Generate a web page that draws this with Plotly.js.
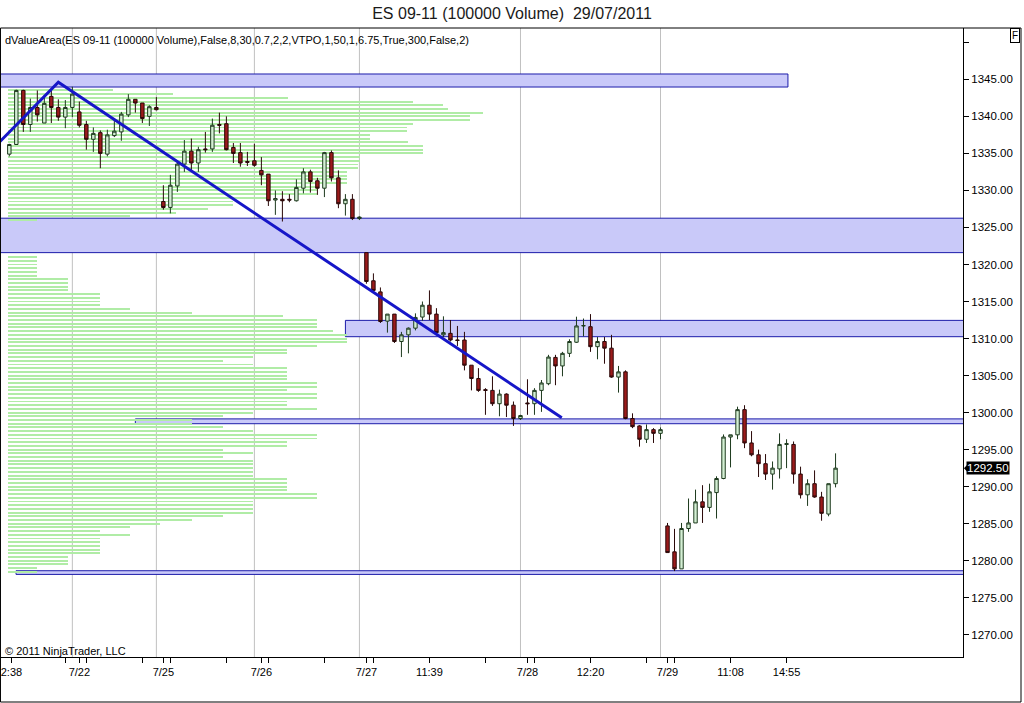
<!DOCTYPE html>
<html><head><meta charset="utf-8">
<script src="https://cdn.plot.ly/plotly-3.0.1.min.js"></script>
<style>html,body{margin:0;padding:0;background:#fff;overflow:hidden}#chart{width:1024px;height:703px;}</style>
</head><body><div id="chart"></div>
<script>
const opens = [1334.9,1336.2,1343.5,1338.9,1341.2,1339.1,1342.7,1341.2,1339.9,1341.2,
1340.6,1338.9,1336.9,1337.8,1334.9,1337.4,1337.9,1340.2,1342.3,1341.8,
1340.0,1341.2,1328.5,1327.7,1330.6,1333.55,1335.3,1333.7,1335.6,1335.6,
1338.9,1339.0,1335.8,1335.1,1333.9,1334.0,1332.7,1332.2,1328.7,1328.8,
1328.8,1328.6,1330.3,1332.5,1331.3,1330.3,1335.1,1331.7,1328.2,1328.8,
1326.2,1321.6,1317.8,1316.3,1312.35,1313.3,1309.6,1310.5,1311.4,1312.9,
1314.5,1313.3,1310.5,1310.7,1309.8,1309.8,1306.4,1304.6,1303.1,1303.0,
1301.2,1302.5,1301.0,1299.2,1301.3,1301.2,1303.0,1303.9,1307.45,1306.3,
1308.0,1309.5,1311.7,1311.6,1308.9,1309.6,1308.7,1304.8,1305.5,1299.2,
1298.2,1296.4,1297.7,1297.2,1284.7,1281.2,1278.9,1284.35,1285.1,1287.95,
1287.2,1289.2,1291.1,1296.7,1297.0,1300.4,1295.9,1294.3,1293.1,1291.7,
1292.4,1295.7,1295.7,1291.7,1288.9,1290.4,1288.6,1286.3,1290.4];
const highs = [1336.3,1343.6,1343.6,1342.4,1343.5,1342.9,1343.5,1342.3,1342.2,1344.0,
1342.0,1339.4,1338.5,1338.1,1338.2,1339.5,1340.6,1343.0,1342.3,1341.8,
1341.5,1342.6,1330.7,1332.1,1334.1,1336.8,1337.0,1335.9,1337.9,1339.7,
1340.5,1340.0,1336.4,1336.4,1335.2,1336.3,1334.5,1332.2,1330.0,1329.9,
1329.5,1331.5,1333.0,1332.8,1331.7,1335.2,1335.4,1332.7,1329.5,1329.5,
1326.5,1321.6,1318.8,1316.9,1313.3,1313.3,1310.9,1311.5,1313.4,1315.0,
1316.5,1314.1,1313.0,1312.5,1311.7,1310.9,1306.4,1306.0,1303.3,1304.9,
1303.1,1302.6,1301.5,1299.7,1304.5,1303.3,1304.4,1307.8,1307.8,1308.2,
1309.9,1312.95,1312.7,1313.3,1310.2,1310.2,1310.5,1306.3,1305.7,1299.9,
1298.3,1298.4,1297.9,1298.0,1285.1,1284.3,1285.1,1288.4,1289.6,1290.2,
1290.4,1291.4,1297.05,1297.0,1300.8,1301.0,1297.5,1295.0,1294.4,1293.4,
1297.2,1296.4,1296.1,1292.7,1291.0,1292.2,1289.3,1290.4,1294.5];
const lows = [1334.6,1336.2,1337.9,1337.9,1339.3,1339.1,1339.1,1339.4,1338.4,1339.9,
1338.5,1335.5,1335.2,1333.0,1334.6,1337.2,1336.7,1339.9,1340.5,1339.1,
1338.7,1340.8,1327.4,1326.9,1329.8,1332.5,1332.7,1332.5,1335.1,1335.2,
1337.7,1335.4,1333.7,1333.2,1333.3,1333.2,1330.7,1327.9,1326.7,1325.8,
1328.4,1328.5,1329.6,1329.7,1329.4,1329.1,1331.2,1327.6,1326.6,1326.0,
1326.0,1317.4,1316.3,1312.1,1310.8,1309.4,1307.5,1308.0,1311.1,1312.4,
1312.5,1310.7,1310.2,1309.6,1309.0,1305.7,1303.0,1302.8,1299.7,1300.9,
1299.5,1299.4,1298.2,1299.0,1299.7,1299.7,1300.1,1303.7,1303.7,1304.9,
1307.5,1309.4,1310.3,1308.2,1307.2,1306.6,1304.7,1302.7,1299.1,1297.9,
1295.4,1295.9,1295.9,1296.4,1281.1,1278.6,1278.9,1283.9,1285.1,1285.1,
1286.6,1285.7,1291.0,1292.6,1296.4,1295.2,1294.1,1291.3,1290.9,1289.6,
1291.1,1292.5,1290.4,1288.4,1287.4,1288.5,1285.4,1286.0,1289.9];
const closes = [1336.2,1343.5,1338.9,1341.2,1340.2,1341.75,1341.2,1339.9,1341.2,1343.0,
1338.8,1336.9,1337.7,1335.0,1337.5,1338.0,1340.3,1342.3,1341.8,1339.7,
1341.3,1340.9,1327.7,1330.7,1333.55,1335.3,1333.7,1335.5,1335.5,1338.8,
1338.8,1335.5,1335.0,1333.7,1333.8,1333.4,1332.1,1328.6,1328.9,1328.6,
1328.7,1330.4,1332.5,1331.2,1330.3,1335.1,1331.7,1328.2,1328.8,1326.2,
1326.4,1317.7,1316.5,1312.3,1313.3,1309.6,1310.5,1311.4,1312.85,1314.5,
1313.3,1310.8,1310.8,1309.8,1309.75,1306.4,1304.6,1303.0,1303.0,1301.2,
1302.5,1301.0,1299.2,1299.6,1301.2,1303.0,1304.0,1307.5,1306.3,1308.0,
1309.6,1311.7,1311.75,1308.9,1309.6,1308.7,1304.8,1305.5,1299.2,1298.1,
1296.4,1297.7,1297.2,1297.7,1281.1,1278.9,1284.35,1285.1,1287.95,1287.2,
1289.3,1291.1,1296.7,1297.0,1300.4,1295.9,1294.3,1293.1,1291.7,1292.5,
1295.7,1295.8,1291.7,1288.9,1290.4,1288.6,1286.4,1290.4,1292.5];

const profileLevels = [1278.5,1279,1279.5,1280,1280.5,1281,1281.5,1282,1282.5,1283,
1283.5,1284,1284.5,1285,1285.5,1286,1286.5,1287,1287.5,1288,
1288.5,1289,1289.5,1290,1290.5,1291,1291.5,1292,1292.5,1293,
1293.5,1294,1294.5,1295,1295.5,1296,1296.5,1297,1297.5,1298,
1298.5,1299,1299.5,1300,1300.5,1301,1301.5,1302,1302.5,1303,
1303.5,1304,1304.5,1305,1305.5,1306,1306.5,1307,1307.5,1308,
1308.5,1309,1309.5,1310,1310.5,1311,1311.5,1312,1312.5,1313,
1313.5,1314,1314.5,1315,1315.5,1316,1316.5,1317,1317.5,1318,
1318.5,1319,1319.5,1320,1320.5,1321,
1326,1326.5,1327,1327.5,1328,1328.5,1329,1329.5,1330,1330.5,
1331,1331.5,1332,1332.5,1333,1333.5,1334,1334.5,1335,1335.5,
1336,1336.5,1337,1337.5,1338,1338.5,1339,1339.5,1340,1340.5,
1341,1341.5,1342,1342.5,1343,1343.5];
const profileVolume = [29,29,60,60,60,92,92,92,92,92,
122,92,122,152,184,215,245,245,245,245,
309,309,279,279,279,279,245,245,245,245,
245,215,245,215,279,279,309,309,245,215,
184,184,215,245,309,279,279,309,309,279,
309,309,279,279,279,279,245,215,245,279,
279,309,339,339,339,325,309,309,309,275,
184,122,92,92,92,92,60,60,60,60,
29,29,29,29,29,29,
29,122,168,200,225,225,260,309,309,309,
339,339,339,339,350,350,352,352,415,415,
415,400,362,362,399,399,405,462,462,475,
440,435,405,280,165,105];

const zoneStart = [-1.5, -1.5, 48, 18, 0.96];
const zoneEnd   = [111.2, 136.6, 136.6, 136.6, 136.6];
const zoneLow   = [1343.96, 1321.6, 1310.25, 1298.5, 1278.15];
const zoneHigh  = [1345.72, 1326.25, 1312.45, 1299.15, 1278.65];

const trendX = [-1.33, 7.0, 78.9];
const trendY = [1336.6, 1344.6, 1299.3];

const sessionBreaks = [9, 21, 35, 50, 73, 93];

const xTickVals = [0.3,8,10,11,19,22,23,31,36,37,45,51,52,60,68,74,75,83,91,94,95,103,111];
const xTickText = ['2:38','','7/22','','','7/25','','','7/26','','','7/27','','11:39','','7/28','','12:20','','7/29','','11:08','14:55'];
const yTickVals = [1270,1275,1280,1285,1290,1295,1300,1305,1310,1315,1320,1325,1330,1335,1340,1345,1350];
const yTickText = ['1270.00','1275.00','1280.00','1285.00','1290.00','1295.00','1300.00','1305.00','1310.00','1315.00','1320.00','1325.00','1330.00','1335.00','1340.00','1345.00',''];

const barIndex = opens.map((_, i) => i);
const lastPrice = closes[closes.length - 1];

const FONT = 'Liberation Sans, Arial, sans-serif';

const traces = [
  {
    type: 'bar', orientation: 'h', xaxis: 'x', yaxis: 'y',
    y: profileLevels, x: profileVolume, width: 0.26,
    marker: {color: 'rgb(176,236,166)', line: {width: 0}},
    hoverinfo: 'skip', showlegend: false
  },
  {
    type: 'candlestick', xaxis: 'x2', yaxis: 'y',
    x: barIndex, open: opens, high: highs, low: lows, close: closes,
    increasing: {line: {color: '#1e3a1e', width: 1}, fillcolor: '#d4efd4'},
    decreasing: {line: {color: '#2a0808', width: 1}, fillcolor: '#9b1b1b'},
    whiskerwidth: 0, hoverinfo: 'skip', showlegend: false
  },
  {
    type: 'scatter', mode: 'lines', xaxis: 'x2', yaxis: 'y',
    x: trendX, y: trendY,
    line: {color: '#1616c8', width: 3},
    hoverinfo: 'skip', showlegend: false
  }
];

const shapes = [];
sessionBreaks.forEach(v => shapes.push({
  type: 'line', xref: 'x2', yref: 'paper', x0: v, x1: v, y0: 0, y1: 1,
  line: {color: '#c0c0c0', width: 1}, layer: 'below'
}));
zoneStart.forEach((s, k) => shapes.push({
  type: 'rect', xref: 'x2', yref: 'y', x0: s, x1: zoneEnd[k], y0: zoneLow[k], y1: zoneHigh[k],
  fillcolor: '#c9c9f9', line: {color: '#1c1caa', width: 1}, layer: 'below'
}));
shapes.push({type: 'rect', xref: 'paper', yref: 'paper', x0: 0.0005, x1: 1021/963, y0: (657-702)/629, y1: 1.0,
  line: {color: '#000', width: 1}, fillcolor: 'rgba(0,0,0,0)', layer: 'above'});
shapes.push({type: 'path', xref: 'paper', yref: 'y',
  path: 'M 1.001,' + lastPrice + ' L 1.0065,' + (lastPrice + 0.75) + ' L 1.0065,' + (lastPrice - 0.75) + ' Z',
  fillcolor: '#000', line: {color: '#000', width: 0}, layer: 'above'});

const annotations = [
  {xref: 'paper', yref: 'paper', x: 3/963, y: (657-40)/629, xanchor: 'left', yanchor: 'middle', showarrow: false,
   text: 'dValueArea(ES 09-11 (100000 Volume),False,8,30,0.7,2,2,VTPO,1,50,1,6.75,True,300,False,2)',
   font: {family: FONT, size: 11, color: '#000'}},
  {xref: 'paper', yref: 'paper', x: 3/963, y: (657-651)/629, xanchor: 'left', yanchor: 'middle', showarrow: false,
   text: '© 2011 NinjaTrader, LLC', font: {family: FONT, size: 11, color: '#000'}},
  {xref: 'paper', yref: 'paper', x: 1015/963, y: (657-35)/629, xanchor: 'center', yanchor: 'middle', showarrow: false,
   text: 'F', font: {family: FONT, size: 10, color: '#000'}, bordercolor: '#000', borderwidth: 1, borderpad: 1, bgcolor: '#fff'},
  {xref: 'paper', yref: 'y', x: 966/963, y: lastPrice, xanchor: 'left', yanchor: 'middle', showarrow: false,
   text: lastPrice.toFixed(2), font: {family: FONT, size: 11.5, color: '#fff'}, bgcolor: '#000', borderpad: 0}
];

const layout = {
  width: 1024, height: 703,
  margin: {l: 0, r: 61, t: 28, b: 46, pad: 0},
  paper_bgcolor: '#fff', plot_bgcolor: '#fff',
  font: {family: FONT, size: 11, color: '#000'},
  showlegend: false,
  bargap: 0,
  title: {text: 'ES 09-11 (100000 Volume)  29/07/2011', xref: 'container', yref: 'container', x: 0.5, y: 1 - 13/703,
          xanchor: 'center', yanchor: 'middle', font: {family: FONT, size: 16, color: '#1a1a1a'}},
  xaxis: {range: [-8, 955], visible: false, fixedrange: true},
  xaxis2: {overlaying: 'x', anchor: 'y', side: 'bottom', range: [-1.33, 136.2],
    tickmode: 'array', tickvals: xTickVals, ticktext: xTickText,
    ticks: 'outside', ticklen: 5, tickcolor: '#000', tickwidth: 1,
    showline: true, linecolor: '#000', linewidth: 1, showgrid: false, zeroline: false,
    tickfont: {family: FONT, size: 11, color: '#000'},
    rangeslider: {visible: false}, fixedrange: true},
  yaxis: {side: 'right', anchor: 'x', range: [1267, 1351.93],
    tickmode: 'array', tickvals: yTickVals, ticktext: yTickText,
    ticks: 'outside', ticklen: 5, tickcolor: '#000', tickwidth: 1,
    showline: true, linecolor: '#000', linewidth: 1, showgrid: false, zeroline: false,
    tickfont: {family: FONT, size: 11.5, color: '#000'}, fixedrange: true},
  shapes: shapes,
  annotations: annotations
};

Plotly.newPlot('chart', traces, layout, {displayModeBar: false, staticPlot: true});
</script></body></html>
